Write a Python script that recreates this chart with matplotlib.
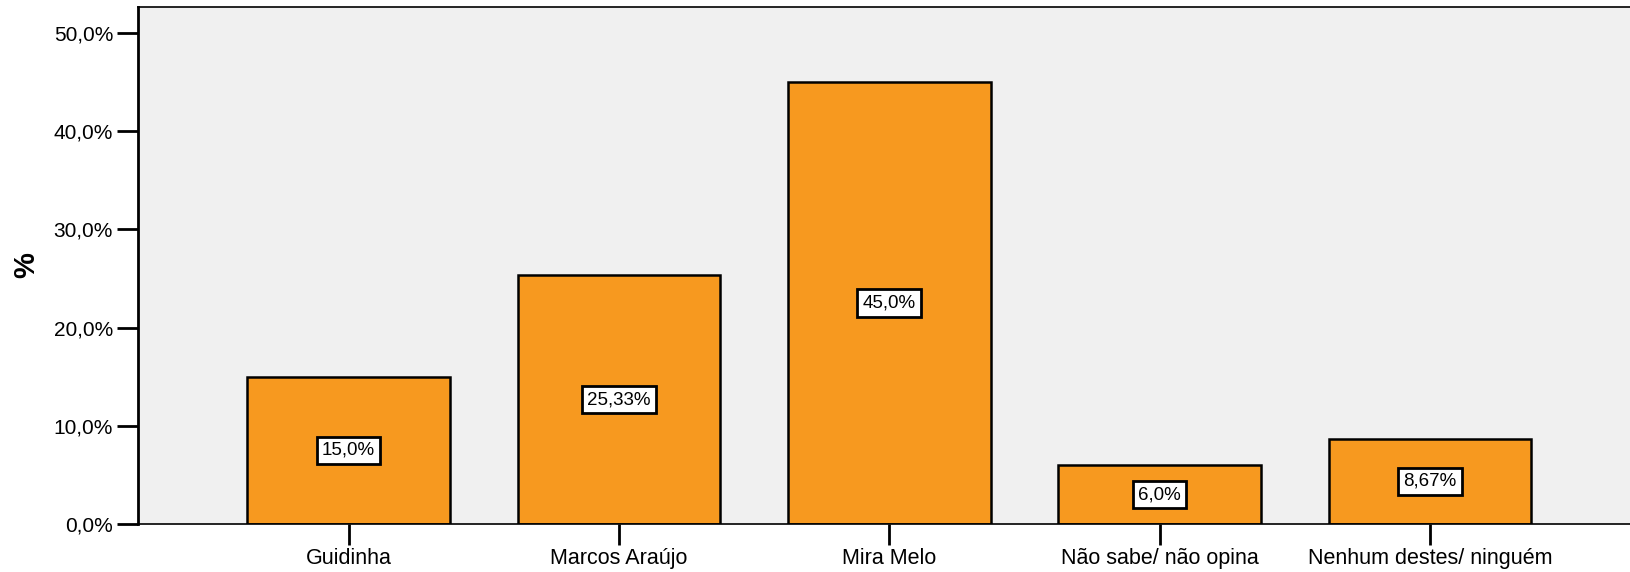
import matplotlib.pyplot as plt
from matplotlib.ticker import FuncFormatter

plt.rcParams['font.family'] = ['Liberation Sans', 'DejaVu Sans']

categories = ["Guidinha", "Marcos Araújo", "Mira Melo", "Não sabe/ não opina", "Nenhum destes/ ninguém"]
values = [15.0, 25.33, 45.0, 6.0, 8.67]
bar_labels = ["15,0%", "25,33%", "45,0%", "6,0%", "8,67%"]
yticks = [0, 10, 20, 30, 40, 50]

fig = plt.figure(figsize=(16.3, 5.72), dpi=100)
ax = fig.add_axes([0.0847, 0.0839, 0.9153, 0.904])
ax.set_facecolor('#f0f0f0')

x = list(range(len(categories)))
bars = ax.bar(x, values, width=0.75, color='#f7991f', edgecolor='black', linewidth=1.8, zorder=2)

# value labels in white boxes at mid-height
for bar, label in zip(bars, bar_labels):
    ax.text(bar.get_x() + bar.get_width() / 2, bar.get_height() / 2, label,
            ha='center', va='center', fontsize=13.5, zorder=3,
            bbox=dict(boxstyle='square,pad=0.28', facecolor='white', edgecolor='black', linewidth=2))

ax.set_xlim(-0.779, 4.74)
ax.set_ylim(0, 52.65)
ax.set_xticks(x)
ax.set_xticklabels(categories, fontsize=15.5)
ax.set_yticks(yticks)
ax.yaxis.set_major_formatter(FuncFormatter(lambda v, p: f"{v:.1f}%".replace(".", ",")))
ax.tick_params(axis='y', labelsize=15, length=15, width=2, pad=3)
ax.tick_params(axis='x', length=15, width=2, pad=2)

ax.spines['right'].set_visible(False)
ax.spines['left'].set_linewidth(2)
ax.spines['bottom'].set_linewidth(1.2)
ax.spines['top'].set_linewidth(1.2)

ax.set_ylabel('%', fontsize=21, fontweight='bold', labelpad=10)

fig.savefig('out.png', dpi=100)
